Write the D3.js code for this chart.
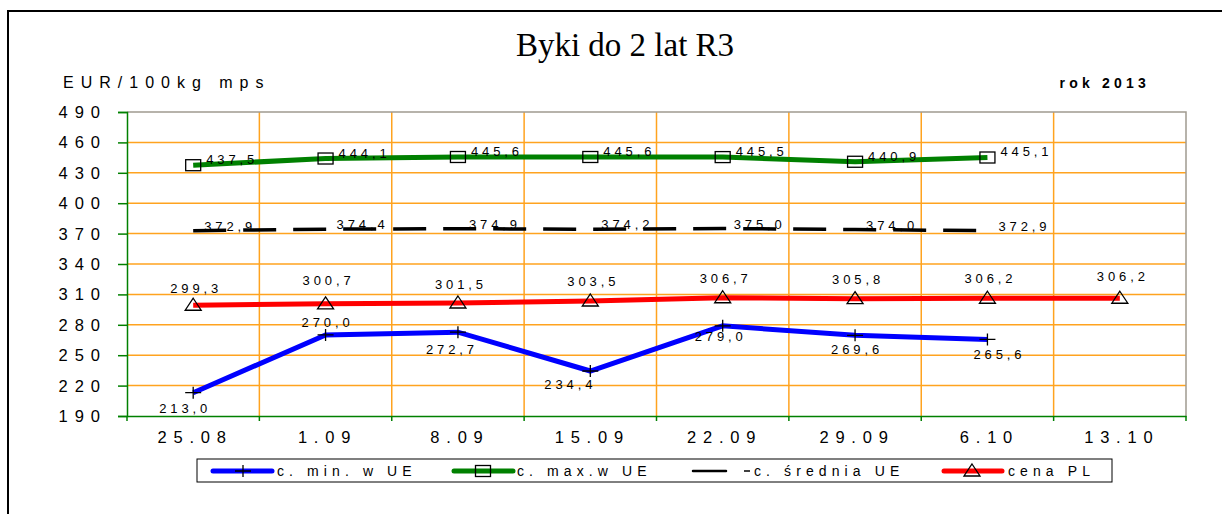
<!DOCTYPE html>
<html>
<head>
<meta charset="utf-8">
<script src="https://cdn.jsdelivr.net/npm/d3@7"></script>
<style>
  body { margin: 0; background: #fff; }
  svg text { font-family: "Liberation Sans", Arial, sans-serif; fill: #000; }
</style>
</head>
<body>
<script>
var categories = ["25.08", "1.09", "8.09", "15.09", "22.09", "29.09", "6.10", "13.10"];
var minUE = [213.0, 270.0, 272.7, 234.4, 279.0, 269.6, 265.6, null];
var maxUE = [437.5, 444.1, 445.6, 445.6, 445.5, 440.9, 445.1, null];
var avgUE = [372.9, 374.4, 374.9, 374.2, 375.0, 374.0, 372.9, null];
var pricePL = [299.3, 300.7, 301.5, 303.5, 306.7, 305.8, 306.2, 306.2];
var yTicks = [190, 220, 250, 280, 310, 340, 370, 400, 430, 460, 490];
var legendNames = ["c. min. w UE", "c. max.w UE", "c. średnia UE", "cena PL"];

var w = 1222, h = 514;
var pLeft = 127, pRight = 1186, pTop = 112, pBottom = 416;

var svg = d3.select("body").append("svg")
  .attr("width", w)
  .attr("height", h);

svg.append("rect").attr("width", w).attr("height", h).attr("fill", "#fff");

// outer frame
svg.append("rect")
  .attr("x", 8).attr("y", 11)
  .attr("width", 1400).attr("height", 700)
  .attr("fill", "none").attr("stroke", "#000").attr("stroke-width", 2);

svg.append("text")
  .attr("x", 625).attr("y", 56)
  .attr("text-anchor", "middle")
  .style("font-family", "'Liberation Serif', 'Times New Roman', serif")
  .style("font-size", "33px")
  .text("Byki do 2 lat R3");

svg.append("text")
  .attr("x", 63).attr("y", 88)
  .style("font-size", "16px")
  .attr("letter-spacing", 7)
  .text("EUR/100kg mps");

svg.append("text")
  .attr("x", 1150).attr("y", 88)
  .attr("text-anchor", "end")
  .style("font-size", "14px")
  .style("font-weight", "bold")
  .attr("letter-spacing", 4.2)
  .text("rok 2013");

var xScale = d3.scaleBand()
  .domain(categories)
  .range([pLeft, pRight]);

var yScale = d3.scaleLinear()
  .domain([190, 490])
  .range([pBottom, pTop]);

var cx = function(i) { return xScale(categories[i]) + xScale.bandwidth() / 2; };

// grid
var grid = svg.append("g");
grid.selectAll(".hg")
  .data(yTicks.slice(1, -1))
  .enter().append("line")
  .attr("x1", pLeft).attr("x2", pRight)
  .attr("y1", function(d) { return yScale(d); })
  .attr("y2", function(d) { return yScale(d); })
  .attr("stroke", "#ffa31f").attr("stroke-width", 1.5);
grid.selectAll(".vg")
  .data(categories.slice(1))
  .enter().append("line")
  .attr("x1", function(d) { return xScale(d); })
  .attr("x2", function(d) { return xScale(d); })
  .attr("y1", pTop).attr("y2", pBottom)
  .attr("stroke", "#ffa31f").attr("stroke-width", 1.5);

// plot border top/right
svg.append("path")
  .attr("d", "M" + pLeft + "," + pTop + "H" + pRight + "V" + pBottom)
  .attr("fill", "none").attr("stroke", "#a09a90").attr("stroke-width", 1.5);

// y axis
var yAxis = d3.axisLeft(yScale)
  .tickValues(yTicks)
  .tickSize(9)
  .tickFormat("");
var gy = svg.append("g")
  .attr("transform", "translate(" + pLeft + ",0)")
  .call(yAxis);
gy.selectAll("line, path").attr("stroke", "#008000").attr("stroke-width", 1.5);

svg.selectAll(".ylab")
  .data(yTicks)
  .enter().append("text")
  .attr("x", 107)
  .attr("y", function(d) { return yScale(d) + 6; })
  .attr("text-anchor", "end")
  .attr("letter-spacing", 7)
  .style("font-size", "16.5px")
  .text(function(d) { return d; });

// x axis
var gx = svg.append("g")
  .attr("transform", "translate(0," + pBottom + ")")
  .call(d3.axisBottom(xScale).tickSize(0).tickFormat(""));
gx.selectAll("path").attr("stroke", "#008000").attr("stroke-width", 1.5);
gx.selectAll(".xt")
  .data(categories.concat(["end"]))
  .enter().append("line")
  .attr("x1", function(d, i) { return pLeft + i * xScale.bandwidth(); })
  .attr("x2", function(d, i) { return pLeft + i * xScale.bandwidth(); })
  .attr("y1", 0).attr("y2", 5)
  .attr("stroke", "#008000").attr("stroke-width", 1.5);

svg.selectAll(".xlab")
  .data(categories)
  .enter().append("text")
  .attr("x", function(d, i) { return cx(i) + 2; })
  .attr("y", 443)
  .attr("text-anchor", "middle")
  .attr("letter-spacing", 6.8)
  .style("font-size", "16.5px")
  .text(function(d) { return d; });

var fmt = function(v) { return v.toFixed(1).replace(".", ","); };

function pts(values) {
  return values.map(function(v, i) { return { i: i, v: v }; })
    .filter(function(d) { return d.v !== null; });
}

var line = d3.line()
  .x(function(d) { return cx(d.i); })
  .y(function(d) { return yScale(d.v); });

// series lines
svg.append("path").datum(pts(minUE)).attr("d", line)
  .attr("fill", "none").attr("stroke", "#0000ff").attr("stroke-width", 5);
svg.append("path").datum(pts(maxUE)).attr("d", line)
  .attr("fill", "none").attr("stroke", "#008000").attr("stroke-width", 5);
svg.append("path").datum(pts(avgUE)).attr("d", line)
  .attr("fill", "none").attr("stroke", "#000").attr("stroke-width", 3.5)
  .attr("stroke-dasharray", "33,17");
svg.append("path").datum(pts(pricePL)).attr("d", line)
  .attr("fill", "none").attr("stroke", "#ff0000").attr("stroke-width", 5);

// markers
function cross(g, x, y) {
  g.append("path")
    .attr("d", "M" + (x - 8) + "," + y + "H" + (x + 8) + "M" + x + "," + (y - 6) + "V" + (y + 6))
    .attr("stroke", "#000").attr("stroke-width", 1.3).attr("fill", "none");
}
function square(g, x, y) {
  g.append("rect")
    .attr("x", x - 7.5).attr("y", y - 5.5)
    .attr("width", 15).attr("height", 11)
    .attr("fill", "none").attr("stroke", "#000").attr("stroke-width", 1.3);
}
function triangle(g, x, y) {
  g.append("path")
    .attr("d", "M" + x + "," + (y - 7) + "L" + (x + 8) + "," + (y + 5) + "L" + (x - 8) + "," + (y + 5) + "Z")
    .attr("fill", "none").attr("stroke", "#000").attr("stroke-width", 1.3);
}

var mk = svg.append("g");
pts(minUE).forEach(function(d) { cross(mk, cx(d.i), yScale(d.v)); });
pts(maxUE).forEach(function(d) { square(mk, cx(d.i), yScale(d.v)); });
pts(pricePL).forEach(function(d) { triangle(mk, cx(d.i), yScale(d.v)); });

// data labels
var lab = svg.append("g").style("font-size", "13px").attr("letter-spacing", 3.9);

lab.selectAll(".lmax").data(pts(maxUE)).enter().append("text")
  .attr("x", function(d) { return cx(d.i) + 13; })
  .attr("y", function(d) { return yScale(d.v) - 1; })
  .text(function(d) { return fmt(d.v); });

lab.selectAll(".lavg").data(pts(avgUE)).enter().append("text")
  .attr("x", function(d) { return cx(d.i) + 11; })
  .attr("y", function(d) { return yScale(d.v); })
  .text(function(d) { return fmt(d.v); });

var plOff = [-12, -19, -14, -15, -15, -15, -15, -17];
lab.selectAll(".lpl").data(pts(pricePL)).enter().append("text")
  .attr("x", function(d) { return cx(d.i) + 3; })
  .attr("y", function(d) { return yScale(d.v) + plOff[d.i]; })
  .attr("text-anchor", "middle")
  .text(function(d) { return fmt(d.v); });

var minOff = [[-8, 20], [2, -8], [-6, 22], [-20, 18], [-2, 15], [2, 19], [12, 20]];
lab.selectAll(".lmin").data(pts(minUE)).enter().append("text")
  .attr("x", function(d) { return cx(d.i) + minOff[d.i][0]; })
  .attr("y", function(d) { return yScale(d.v) + minOff[d.i][1]; })
  .attr("text-anchor", "middle")
  .text(function(d) { return fmt(d.v); });

// legend
var lg = svg.append("g");
lg.append("rect")
  .attr("x", 197).attr("y", 459)
  .attr("width", 915).attr("height", 23)
  .attr("fill", "#fff").attr("stroke", "#000").attr("stroke-width", 1);

var ly = 471;
var lgItems = [
  { x0: 213, x1: 272, color: "#0000ff", w: 5, tx: 277, name: legendNames[0] },
  { x0: 454, x1: 513, color: "#008000", w: 5, tx: 517, name: legendNames[1] },
  { x0: 693, x1: 726, color: "#000", w: 2.5, tx: 754, name: legendNames[2] },
  { x0: 944, x1: 1002, color: "#ff0000", w: 5, tx: 1008, name: legendNames[3] }
];
lgItems.forEach(function(d) {
  lg.append("line")
    .attr("x1", d.x0).attr("x2", d.x1)
    .attr("y1", ly).attr("y2", ly)
    .attr("stroke", d.color).attr("stroke-width", d.w)
    .attr("stroke-linecap", "round");
  lg.append("text")
    .attr("x", d.tx).attr("y", ly + 5)
    .attr("letter-spacing", 5.1)
    .style("font-size", "14px")
    .text(d.name);
});
lg.append("line")
  .attr("x1", 744).attr("x2", 750)
  .attr("y1", ly).attr("y2", ly)
  .attr("stroke", "#000").attr("stroke-width", 1.5);
cross(lg, 243, ly);
square(lg, 483, ly);
triangle(lg, 972, ly);
</script>
</body>
</html>
